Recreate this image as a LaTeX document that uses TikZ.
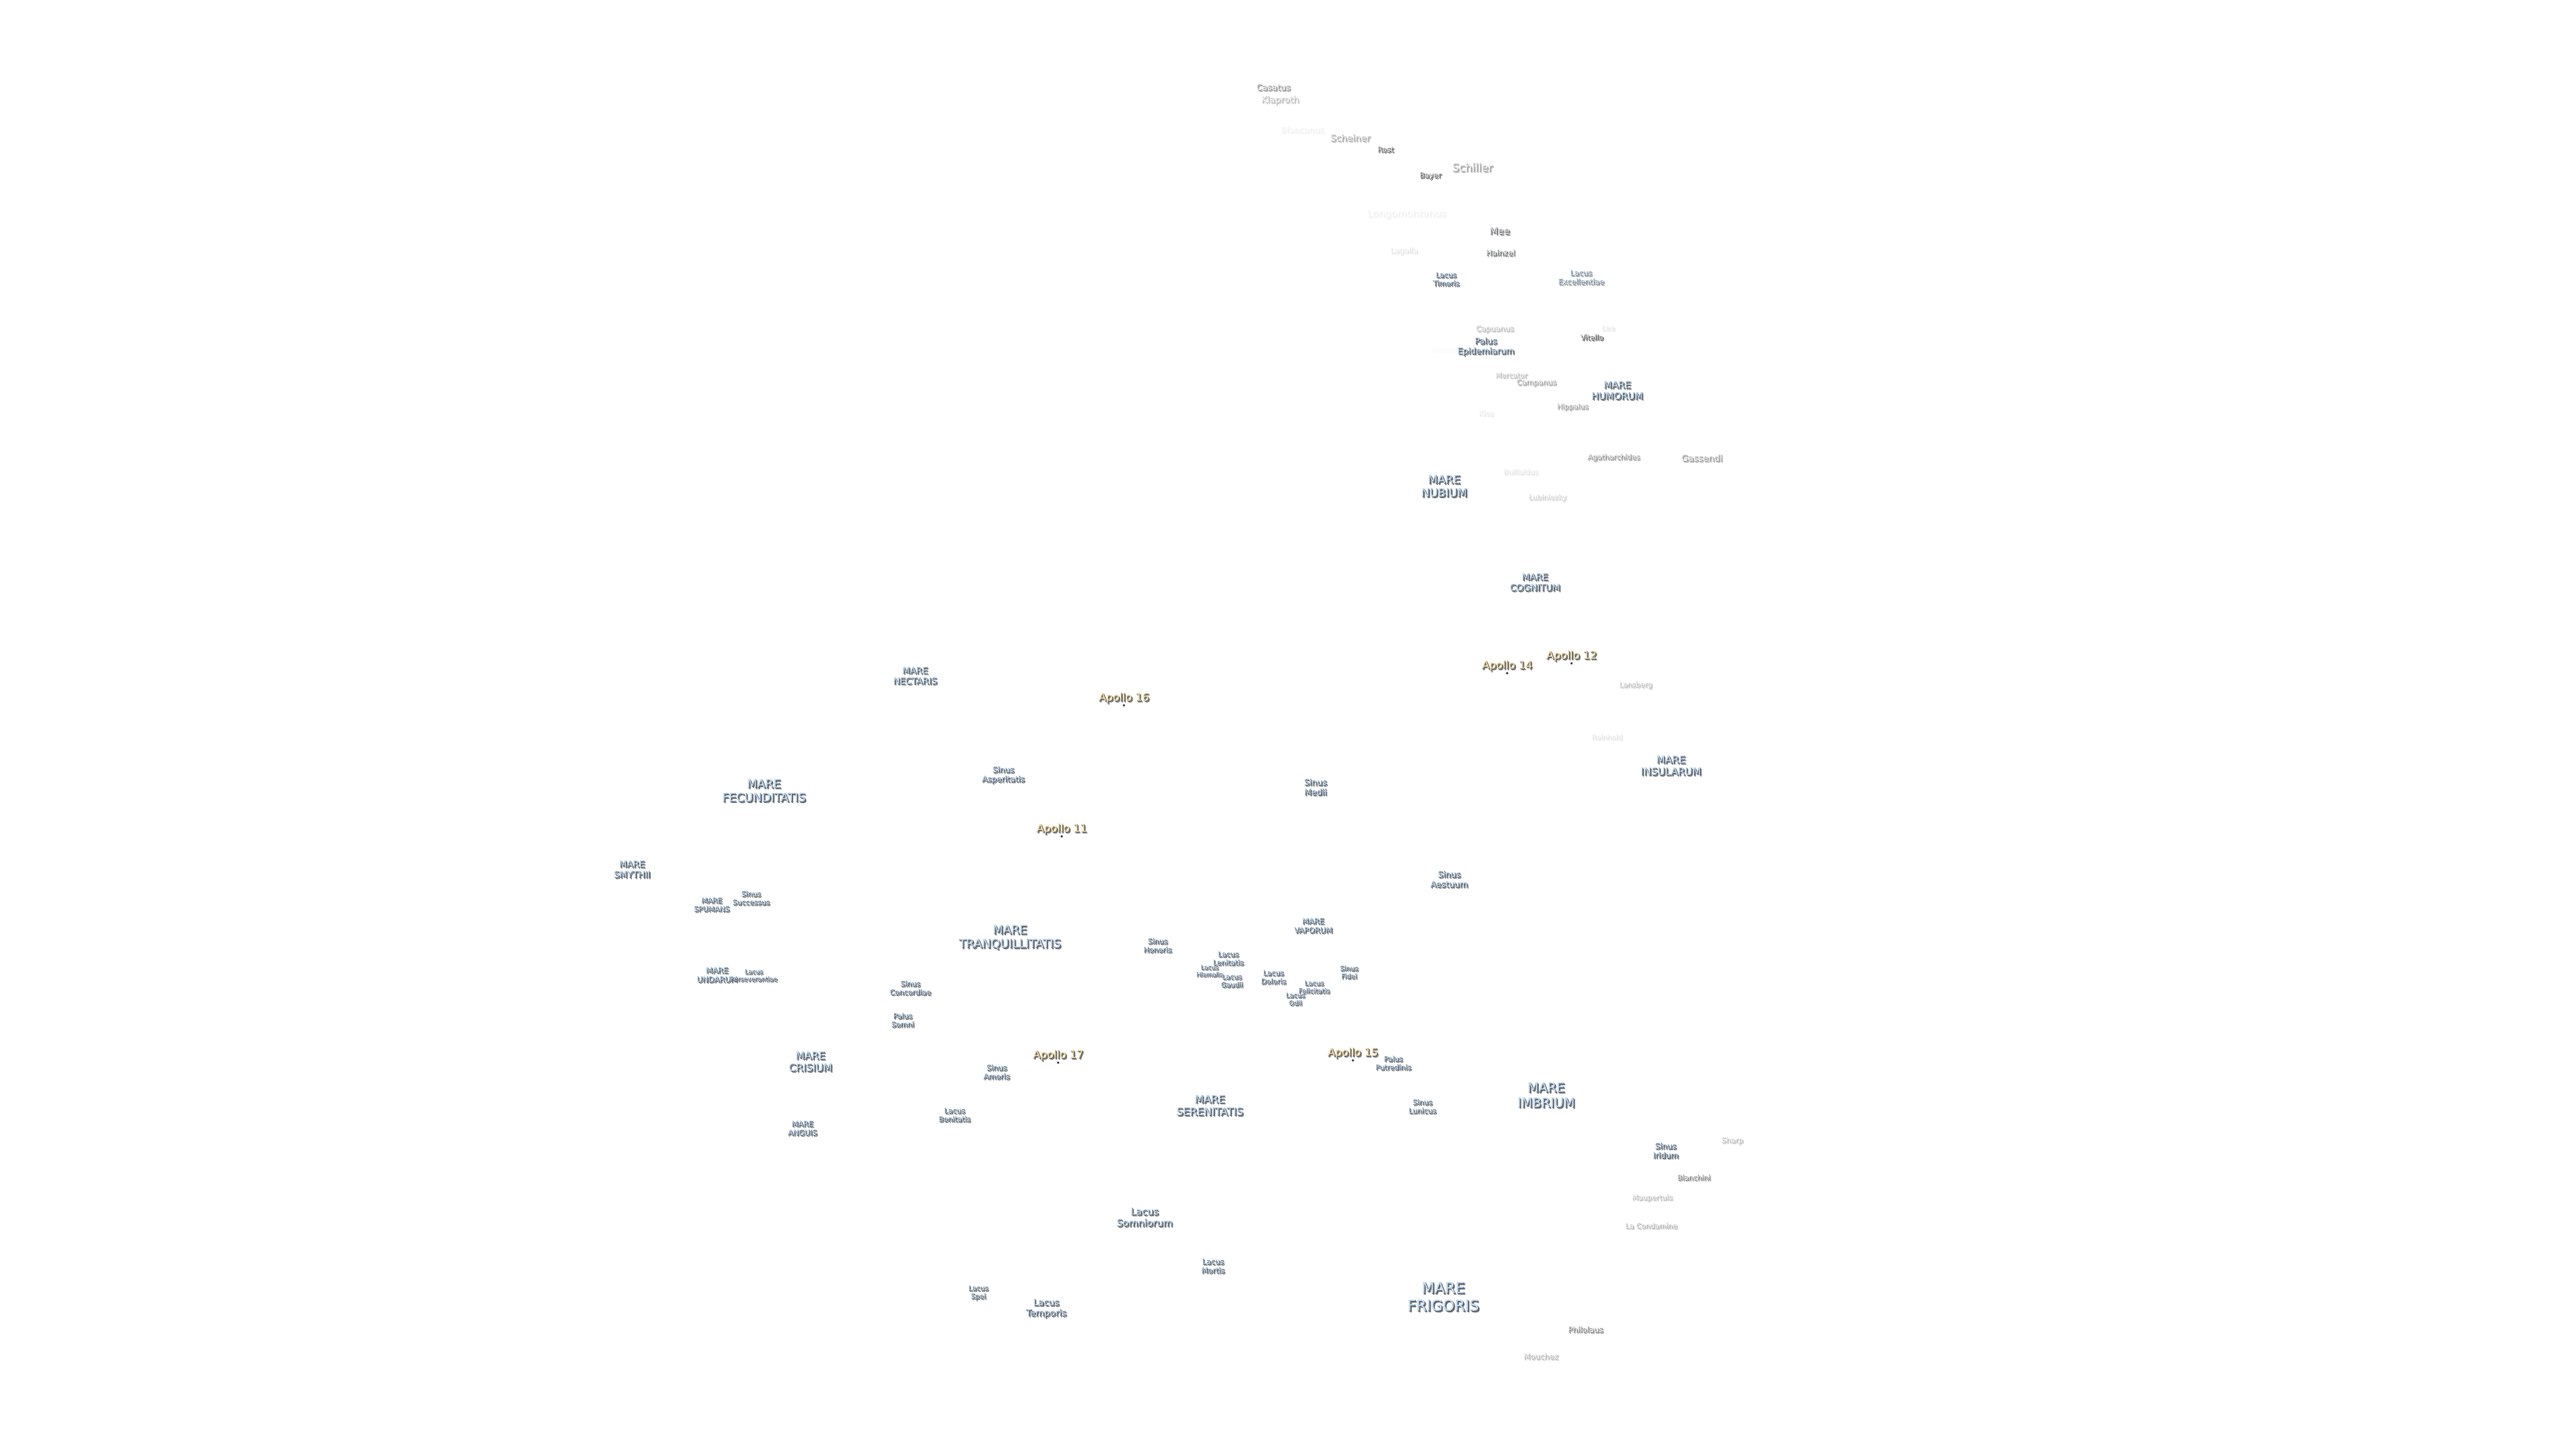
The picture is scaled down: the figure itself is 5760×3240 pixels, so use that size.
\documentclass[tikz,border=0pt]{standalone}
\usepackage{fontspec}
\setmainfont{DejaVu Sans}
\newfontfamily\edgefont[FakeBold=1.5]{DejaVu Sans}
\newfontfamily\facefont[FakeBold=0.5]{DejaVu Sans}
\definecolor{mareFill}{HTML}{C4DDF6}
\definecolor{craterFill}{HTML}{E4E4E4}
\definecolor{apolloFill}{HTML}{FCE2AE}
\definecolor{edgeDark}{HTML}{343A42}
\definecolor{shadowGray}{HTML}{747474}
\tikzset{
  lbl/.style={inner sep=0pt,align=center},
  dotmark/.style={circle,inner sep=0pt,minimum size=1.4pt,fill=#1}
}
% \lab{id}{x}{y}{size px}{fill colour}{strength 0-100}{text}
\newcommand{\lab}[7]{%
  \pgfmathsetmacro{\fs}{#4*0.28453}%
  \pgfmathsetmacro{\fl}{#4*0.28453*1.17}%
  \node[lbl,text=shadowGray!#6!white,font=\edgefont\fontsize{\fs pt}{\fl pt}\selectfont] (#1-s) at (#2+3,#3+3.4) {#7};
  \node[lbl,text=edgeDark!#6!white,font=\edgefont\fontsize{\fs pt}{\fl pt}\selectfont] (#1-o) at (#2+0.8,#3+0.9) {#7};
  \node[lbl,text=#5!#6!white,font=\facefont\fontsize{\fs pt}{\fl pt}\selectfont] (#1) at (#2,#3) {#7};
}
\newcommand{\site}[4]{%
  \node[dotmark=edgeDark] (#1-m) at (#2,#3+#4) {};
}
\begin{document}
\begin{tikzpicture}[x=0.01cm,y=-0.01cm]
\useasboundingbox[fill=white] (0,0) rectangle (5760,3240);
\begin{scope}[shift={(-3,-0.5)}]
% craters
\lab{casatus}{2850}{195}{19}{craterFill}{65}{Casatus}
\lab{klaproth}{2865}{224}{20}{craterFill}{40}{Klaproth}
\lab{blancanus}{2915}{290}{18.6}{craterFill}{8}{Blancanus}
\lab{scheiner}{3022}{308}{20.4}{craterFill}{50}{Scheiner}
\lab{rost}{3101}{334}{16.6}{craterFill}{95}{Rost}
\lab{schiller}{3295}{374}{24.7}{craterFill}{55}{Schiller}
\lab{bayer}{3201}{393}{16.6}{craterFill}{95}{Bayer}
\lab{longomontanus}{3148}{479}{21.8}{craterFill}{8}{Longomontanus}
\lab{mee}{3356}{516}{21.7}{craterFill}{85}{Mee}
\lab{lagalla}{3142}{561}{17}{craterFill}{15}{Lagalla}
\lab{hainzel}{3358}{565}{17.5}{craterFill}{85}{Hainzel}
\lab{capuanus}{3345}{736}{17}{craterFill}{40}{Capuanus}
\lab{lee}{3599}{733}{16.8}{craterFill}{15}{Lee}
\lab{vitello}{3562}{754}{16.4}{craterFill}{100}{Vitello}
\lab{pitatus}{3231}{782}{16}{craterFill}{2}{Pitatus}
\lab{mercator}{3382}{839}{16}{craterFill}{40}{Mercator}
\lab{campanus}{3438}{856}{16.7}{craterFill}{55}{Campanus}
\lab{hippalus}{3519}{910}{16}{craterFill}{60}{Hippalus}
\lab{kies}{3326}{924}{16}{craterFill}{12}{Kies}
\lab{agatharchides}{3611}{1023}{16.2}{craterFill}{65}{Agatharchides}
\lab{gassendi}{3808}{1024}{20}{craterFill}{60}{Gassendi}
\lab{bullialdus}{3403}{1055}{16}{craterFill}{15}{Bullialdus}
\lab{lubiniezky}{3463}{1113}{16}{craterFill}{28}{Lubiniezky}
\lab{lansberg}{3660}{1532}{16}{craterFill}{40}{Lansberg}
\lab{reinhold}{3596}{1648}{15.8}{craterFill}{15}{Reinhold}
\lab{sharp}{3876}{2551}{16.5}{craterFill}{40}{Sharp}
\lab{bianchini}{3790}{2633}{16.1}{craterFill}{75}{Bianchini}
\lab{maupertuis}{3697}{2679}{16.2}{craterFill}{40}{Maupertuis}
\lab{condamine}{3695}{2741}{16.1}{craterFill}{45}{La Condamine}
\lab{philolaus}{3548}{2973}{17.6}{craterFill}{75}{Philolaus}
\lab{mouchez}{3448}{3033}{17.5}{craterFill}{45}{Mouchez}
% maria, lakes, bays, marshes
\lab{timoris}{3236}{624}{16}{mareFill}{100}{Lacus\\Timoris}
\lab{excellentiae}{3538}{620}{16.9}{mareFill}{75}{Lacus\\Excellentiae}
\lab{epidemiarum}{3325}{775}{19}{mareFill}{100}{Palus\\Epidemiarum}
\lab{humorum}{3619}{873}{21.2}{mareFill}{100}{MARE\\HUMORUM}
\lab{nubium}{3232}{1087}{25.3}{mareFill}{100}{MARE\\NUBIUM}
\lab{cognitum}{3435}{1302}{20.4}{mareFill}{100}{MARE\\COGNITUM}
\lab{insularum}{3739}{1712}{22.7}{mareFill}{100}{MARE\\INSULARUM}
\lab{nectaris}{2049}{1511}{19.9}{mareFill}{100}{MARE\\NECTARIS}
\lab{asperitatis}{2246}{1733}{17.8}{mareFill}{100}{Sinus\\Asperitatis}
\lab{fecunditatis}{1711}{1768}{26.2}{mareFill}{100}{MARE\\FECUNDITATIS}
\lab{medii}{2944}{1760}{18.8}{mareFill}{100}{Sinus\\Medii}
\lab{aestuum}{3243}{1966}{18.8}{mareFill}{100}{Sinus\\Aestuum}
\lab{smythii}{1416}{1944}{20}{mareFill}{100}{MARE\\SMYTHII}
\lab{spumans}{1594}{2023}{16.2}{mareFill}{100}{MARE\\SPUMANS}
\lab{successus}{1682}{2008}{16}{mareFill}{100}{Sinus\\Successus}
\lab{undarum}{1606}{2180}{17.4}{mareFill}{100}{MARE\\UNDARUM}
\lab{perseverantiae}{1688}{2181}{14}{mareFill}{100}{Lacus\\Perseverantiae}
\lab{tranquillitatis}{2261}{2096}{26.5}{mareFill}{100}{MARE\\TRANQUILLITATIS}
\lab{honoris}{2591}{2114}{16.4}{mareFill}{100}{Sinus\\Honoris}
\lab{concordiae}{2038}{2209}{16.3}{mareFill}{100}{Sinus\\Concordiae}
\lab{somni}{2021}{2281}{16.2}{mareFill}{100}{Palus\\Somni}
\lab{crisium}{1815}{2374}{23}{mareFill}{100}{MARE\\CRISIUM}
\lab{amoris}{2231}{2397}{16.8}{mareFill}{100}{Sinus\\Amoris}
\lab{bonitatis}{2137}{2493}{16.1}{mareFill}{100}{Lacus\\Bonitatis}
\lab{anguis}{1797}{2523}{16.8}{mareFill}{100}{MARE\\ANGUIS}
\lab{serenitatis}{2708}{2472}{23.6}{mareFill}{100}{MARE\\SERENITATIS}
\lab{vaporum}{2939}{2070}{17.2}{mareFill}{100}{MARE\\VAPORUM}
\lab{fidei}{3019}{2174}{15}{mareFill}{100}{Sinus\\Fidei}
\lab{lenitatis}{2749}{2143}{16}{mareFill}{100}{Lacus\\Lenitatis}
\lab{hiemalis}{2707}{2171}{13.6}{mareFill}{100}{Lacus\\Hiemalis}
\lab{gaudii}{2757}{2193}{15.2}{mareFill}{100}{Lacus\\Gaudii}
\lab{doloris}{2850}{2185}{16}{mareFill}{100}{Lacus\\Doloris}
\lab{felicitatis}{2941}{2207}{14.8}{mareFill}{100}{Lacus\\Felicitatis}
\lab{odii}{2899}{2234}{14.7}{mareFill}{100}{Lacus\\Odii}
\lab{putredinis}{3118}{2377}{16}{mareFill}{100}{Palus\\Putredinis}
\lab{lunicus}{3183}{2474}{16.2}{mareFill}{100}{Sinus\\Lunicus}
\lab{imbrium}{3460}{2449}{29}{mareFill}{100}{MARE\\IMBRIUM}
\lab{iridum}{3727}{2573}{17.6}{mareFill}{100}{Sinus\\Iridum}
\lab{somniorum}{2562}{2722}{21.7}{mareFill}{100}{Lacus\\Somniorum}
\lab{mortis}{2715}{2831}{16.8}{mareFill}{100}{Lacus\\Mortis}
\lab{spei}{2190}{2891}{15.4}{mareFill}{100}{Lacus\\Spei}
\lab{temporis}{2342}{2926}{20}{mareFill}{100}{Lacus\\Temporis}
\lab{frigoris}{3230}{2900}{33.7}{mareFill}{100}{MARE\\FRIGORIS}
% Apollo landing sites
\lab{a12}{3517}{1467}{24}{apolloFill}{100}{Apollo 12}\site{a12}{3517}{1467}{17}
\lab{a14}{3373}{1489}{24}{apolloFill}{100}{Apollo 14}\site{a14}{3373}{1489}{17}
\lab{a16}{2516}{1561}{24}{apolloFill}{100}{Apollo 16}\site{a16}{2516}{1561}{17}
\lab{a11}{2377}{1854}{24}{apolloFill}{100}{Apollo 11}\site{a11}{2377}{1854}{17}
\lab{a17}{2369}{2360}{24}{apolloFill}{100}{Apollo 17}\site{a17}{2369}{2360}{17}
\lab{a15}{3028}{2355}{24}{apolloFill}{100}{Apollo 15}\site{a15}{3028}{2355}{17}
\end{scope}
\end{tikzpicture}
\end{document}
